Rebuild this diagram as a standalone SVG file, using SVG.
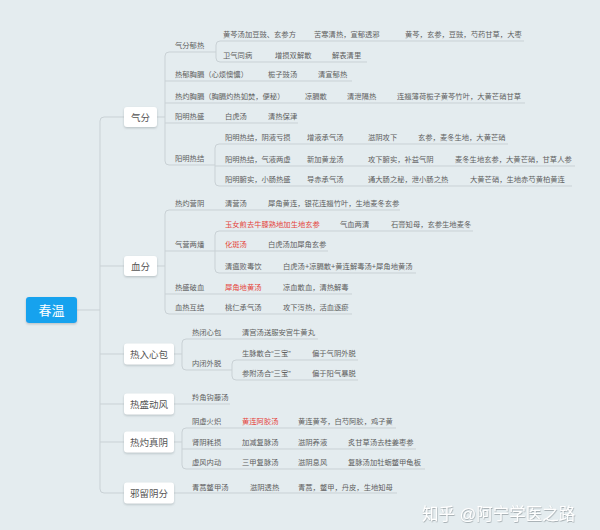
<svg xmlns="http://www.w3.org/2000/svg" width="600" height="530" viewBox="0 0 600 530">
<defs>
<filter id="sh" x="-20%" y="-20%" width="140%" height="160%"><feDropShadow dx="0" dy="1.2" stdDeviation="0.8" flood-color="#9aa4a8" flood-opacity="0.6"/></filter>
<filter id="wm" x="-10%" y="-30%" width="120%" height="160%"><feDropShadow dx="0.5" dy="0.8" stdDeviation="0.6" flood-color="#7d868a" flood-opacity="0.7"/></filter>
<style>
text{font-family:"Liberation Sans","Noto Sans CJK SC",sans-serif;dominant-baseline:central}
.t{font-size:7.3px;fill:#5e5e5e}
.r{font-size:7.3px;fill:#e5443b}
.n{font-size:9.5px;fill:#555;text-anchor:middle}
.box{fill:#fff;filter:url(#sh)}
.c{fill:none;stroke:#c9d1d5;stroke-width:1}
</style>
</defs>
<rect width="600" height="530" fill="#e4ecef"/>
<g id="connectors" class="c">
<path d="M77,310 H100"/>
<path d="M124,117 H104 Q100,117 100,121 V489 Q100,493 104,493 H124"/>
<path d="M100,266 H124 M100,354 H124 M100,404 H124 M100,442 H124"/>
<!-- 气分 -->
<path d="M157,117 H165 M169,52 Q165,52 165,56 V161 Q165,165 169,165"/>
<path d="M169,52 H216 M220,41 Q216,41 216,45 V58 Q216,62 220,62"/>
<path d="M220,41 H524 M220,62 H367 M165,81 H352 M165,103 H525 M165,123 H298"/>
<path d="M169,165 H215 M219,144 Q215,144 215,148 V182 Q215,186 219,186"/>
<path d="M219,144 H508 M215,166 H575 M219,186 H572"/>
<!-- 血分 -->
<path d="M157,266 H165 M169,210 Q165,210 165,214 V310 Q165,314 169,314"/>
<path d="M169,210 H400 M165,251 H215 M219,231 Q215,231 215,235 V269 Q215,273 219,273"/>
<path d="M219,231 H473 M215,251 H328 M219,273 H416 M165,294 H352 M169,314 H352"/>
<!-- 热入心包 -->
<path d="M174,354 H182 M186,339 Q182,339 182,343 V366 Q182,370 186,370"/>
<path d="M186,339 H318 M186,370 H232 M236,360 Q232,360 232,364 V376 Q232,380 236,380"/>
<path d="M236,360 H358 M236,380 H358"/>
<!-- 热盛动风 -->
<path d="M174,404 H230"/>
<!-- 热灼真阴 -->
<path d="M174,442 H182 M186,428 Q182,428 182,432 V465 Q182,469 186,469"/>
<path d="M186,428 H396 M182,449 H416 M186,469 H425"/>
<!-- 邪留阴分 -->
<path d="M174,493 H397"/>
</g>
<g id="root"><rect x="26" y="297" width="51" height="26" rx="3" fill="#19a2ee" filter="url(#sh)"/><text x="51.5" y="310" style="font-size:13px;fill:#fff;text-anchor:middle">春温</text></g>
<g id="qifen"><rect class="box" x="124" y="107" width="33" height="20" rx="3"/><text class="n" x="140.5" y="117">气分</text></g>
<g id="xuefen"><rect class="box" x="124" y="256" width="33" height="20" rx="3"/><text class="n" x="140.5" y="266">血分</text></g>
<g id="rerxinbao"><rect class="box" x="124" y="343.5" width="50" height="21" rx="3"/><text class="n" x="149" y="354">热入心包</text></g>
<g id="reshengdongfeng"><rect class="box" x="124" y="393.5" width="50" height="21" rx="3"/><text class="n" x="149" y="404">热盛动风</text></g>
<g id="rezhuozhenyin"><rect class="box" x="124" y="431.5" width="50" height="21" rx="3"/><text class="n" x="149" y="442">热灼真阴</text></g>
<g id="xieliuyinfen"><rect class="box" x="124" y="482.5" width="50" height="21" rx="3"/><text class="n" x="149" y="493">邪留阴分</text></g>
<!-- 气分 rows -->
<g id="q1"><text class="t" x="175" y="45">气分郁热</text></g>
<g id="q1a"><text class="t" x="223" y="34">黄芩汤加豆豉、玄参方</text><text class="t" x="314" y="34">苦寒清热，宣郁透邪</text><text class="t" x="405" y="34">黄芩，玄参，豆豉，芍药甘草，大枣</text></g>
<g id="q1b"><text class="t" x="223" y="55">卫气同病</text><text class="t" x="275" y="55">增损双解散</text><text class="t" x="332" y="55">解表清里</text></g>
<g id="q2"><text class="t" x="175" y="74">热郁胸膈（心烦懊憹）</text><text class="t" x="268" y="74">栀子豉汤</text><text class="t" x="318" y="74">清宣郁热</text></g>
<g id="q3"><text class="t" x="175" y="96">热灼胸膈（胸膈灼热如焚，便秘）</text><text class="t" x="305" y="96">凉膈散</text><text class="t" x="347" y="96">清泄隔热</text><text class="t" x="397" y="96">连翘薄荷栀子黄芩竹叶，大黄芒硝甘草</text></g>
<g id="q4"><text class="t" x="175" y="116">阳明热盛</text><text class="t" x="225" y="116">白虎汤</text><text class="t" x="268" y="116">清热保津</text></g>
<g id="q5"><text class="t" x="175" y="158">阳明热结</text></g>
<g id="q5a"><text class="t" x="225" y="137">阳明热结，阴液亏损</text><text class="t" x="307" y="137">增液承气汤</text><text class="t" x="368" y="137">滋阴攻下</text><text class="t" x="418" y="137">玄参，麦冬生地，大黄芒硝</text></g>
<g id="q5b"><text class="t" x="225" y="159">阳明热结，气液两虚</text><text class="t" x="307" y="159">新加黄龙汤</text><text class="t" x="368" y="159">攻下腑实，补益气阴</text><text class="t" x="455" y="159">麦冬生地玄参，大黄芒硝，甘草人参</text></g>
<g id="q5c"><text class="t" x="225" y="179">阳明腑实，小肠热盛</text><text class="t" x="307" y="179">导赤承气汤</text><text class="t" x="368" y="179">通大肠之秘，泄小肠之热</text><text class="t" x="470" y="179">大黄芒硝，生地赤芍黄柏黄连</text></g>
<!-- 血分 rows -->
<g id="x1"><text class="t" x="175" y="203">热灼营阴</text><text class="t" x="225" y="203">清营汤</text><text class="t" x="268" y="203">犀角黄连，银花连翘竹叶，生地麦冬玄参</text></g>
<g id="x2"><text class="t" x="175" y="244">气营两燔</text></g>
<g id="x2a"><text class="r" x="225" y="224">玉女煎去牛膝熟地加生地玄参</text><text class="t" x="340" y="224">气血两清</text><text class="t" x="391" y="224">石膏知母，玄参生地麦冬</text></g>
<g id="x2b"><text class="r" x="225" y="244">化斑汤</text><text class="t" x="268" y="244">白虎汤加犀角玄参</text></g>
<g id="x2c"><text class="t" x="225" y="266">清瘟败毒饮</text><text class="t" x="283" y="266">白虎汤+凉膈散+黄连解毒汤+犀角地黄汤</text></g>
<g id="x3"><text class="t" x="175" y="287">热盛破血</text><text class="r" x="225" y="287">犀角地黄汤</text><text class="t" x="283" y="287">凉血散血，清热解毒</text></g>
<g id="x4"><text class="t" x="175" y="307">血热互结</text><text class="t" x="225" y="307">桃仁承气汤</text><text class="t" x="283" y="307">攻下泻热，活血逐瘀</text></g>
<!-- 热入心包 rows -->
<g id="r1"><text class="t" x="192" y="332">热闭心包</text><text class="t" x="242" y="332">清宫汤送服安宫牛黄丸</text></g>
<g id="r2"><text class="t" x="192" y="363">内闭外脱</text></g>
<g id="r2a"><text class="t" x="242" y="353">生脉散合“三宝”</text><text class="t" x="312" y="353">偏于气阴外脱</text></g>
<g id="r2b"><text class="t" x="242" y="373">参附汤合“三宝”</text><text class="t" x="312" y="373">偏于阳气暴脱</text></g>
<!-- 热盛动风 -->
<g id="d1"><text class="t" x="192" y="397">羚角钩藤汤</text></g>
<!-- 热灼真阴 -->
<g id="z1"><text class="t" x="192" y="421">阴虚火炽</text><text class="r" x="242" y="421">黄连阿胶汤</text><text class="t" x="298" y="421">黄连黄芩，白芍阿胶，鸡子黄</text></g>
<g id="z2"><text class="t" x="192" y="442">肾阴耗损</text><text class="t" x="242" y="442">加减复脉汤</text><text class="t" x="298" y="442">滋阴养液</text><text class="t" x="348" y="442">炙甘草汤去桂姜枣参</text></g>
<g id="z3"><text class="t" x="192" y="462">虚风内动</text><text class="t" x="242" y="462">三甲复脉汤</text><text class="t" x="298" y="462">滋阴息风</text><text class="t" x="348" y="462">复脉汤加牡蛎鳖甲龟板</text></g>
<!-- 邪留阴分 -->
<g id="y1"><text class="t" x="192" y="487">青蒿鳖甲汤</text><text class="t" x="250" y="487">滋阴透热</text><text class="t" x="298" y="487">青蒿，鳖甲，丹皮，生地知母</text></g>
<g id="watermark"><text x="422" y="514" style="font-size:16.5px;fill:#fff;filter:url(#wm)">知乎 @阿宁学医之路</text></g>
</svg>
